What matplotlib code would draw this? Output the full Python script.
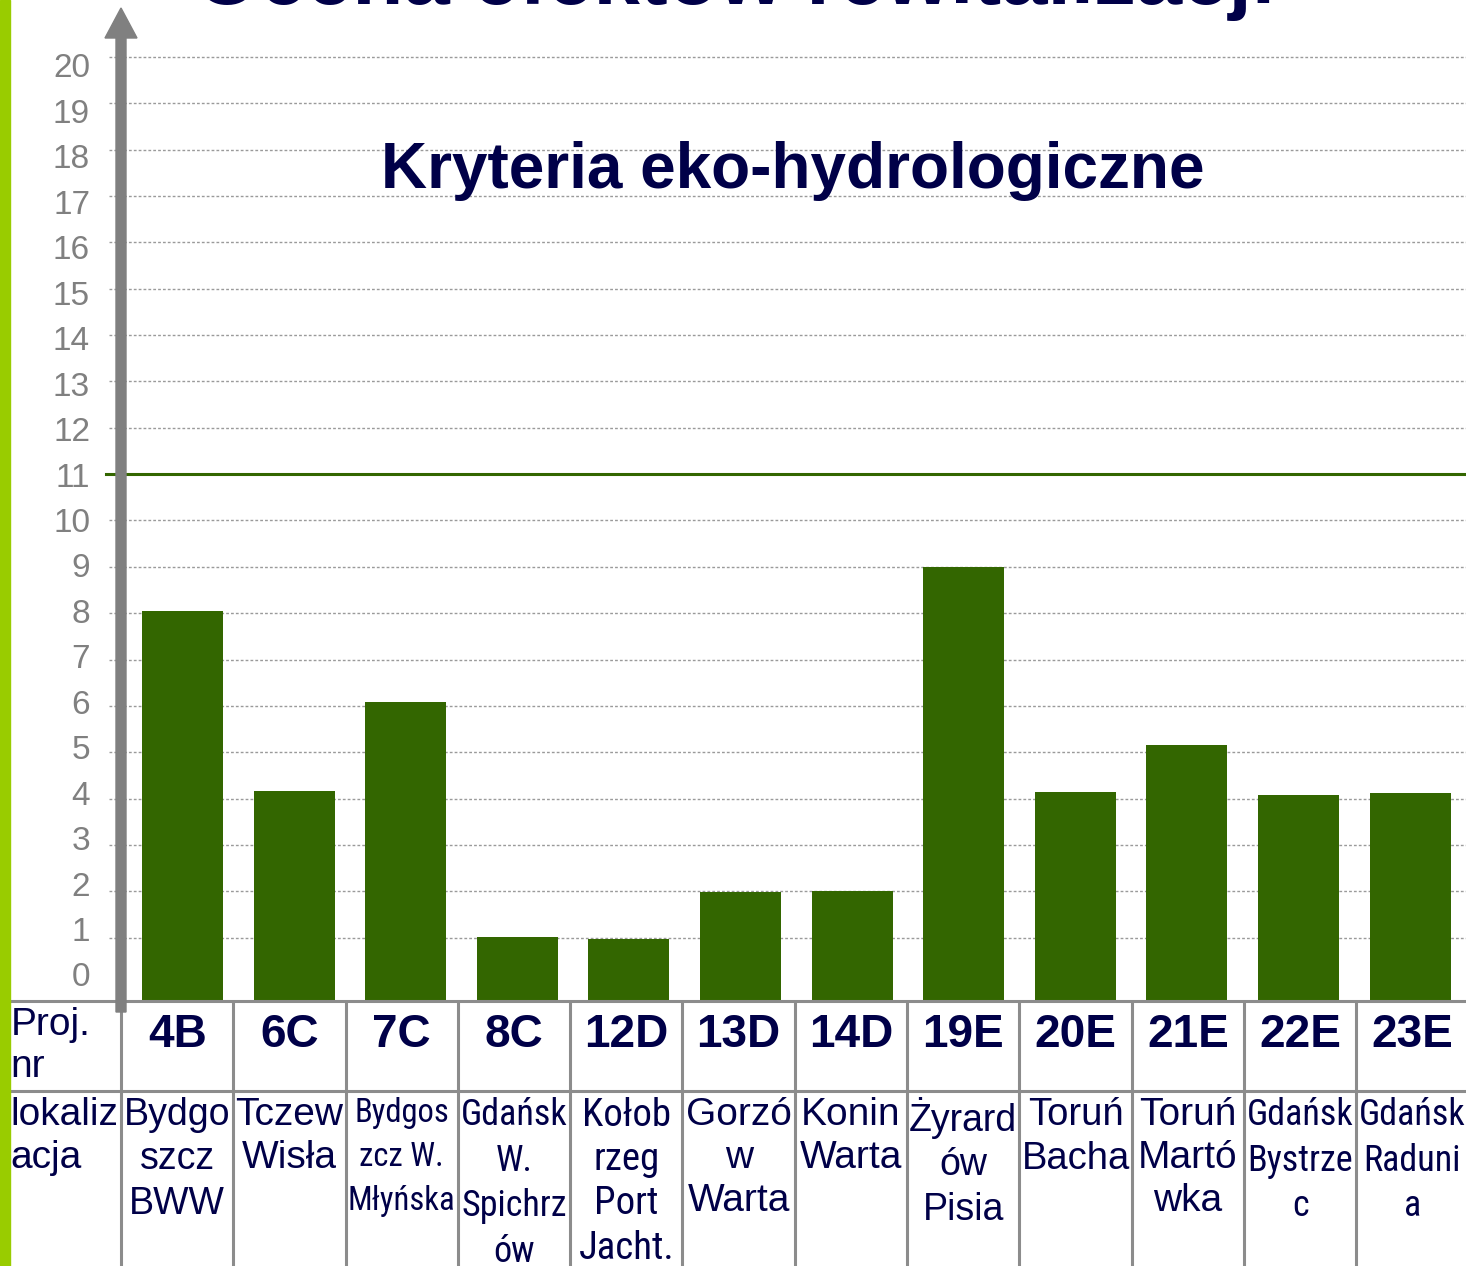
import matplotlib
matplotlib.use("Agg")
import matplotlib.pyplot as plt
import matplotlib.patches as mpatches
from matplotlib.transforms import IdentityTransform
from matplotlib import font_manager

projects = ["4B", "6C", "7C", "8C", "12D", "13D", "14D", "19E", "20E", "21E", "22E", "23E"]
locations = ["Bydgo\nszcz\nBWW", "Tczew\nWisła", "Bydgos\nzcz W.\nMłyńska", "Gdańsk\nW.\nSpichrz\nów",
             "Kołob\nrzeg\nPort\nJacht.", "Gorzó\nw\nWarta", "Konin\nWarta", "Żyrard\nów\nPisia",
             "Toruń\nBacha", "Toruń\nMartó\nwka", "Gdańsk\nBystrze\nc", "Gdańsk\nRaduni\na"]
narrow = [False, False, True, True, True, False, False, False, False, False, True, True]
scores = [8.04, 4.16, 6.08, 1.01, 0.97, 1.98, 2.0, 8.99, 4.14, 5.15, 4.07, 4.12]
threshold = 11
yticks = list(range(0, 21))

W, H = 1466, 1266
fig = plt.figure(figsize=(W / 100, H / 100), dpi=100)
fig.patch.set_facecolor("white")

NAVY = "#000048"
GREEN = "#336600"
GRAY = "#808080"
LINEG = "#8c8c8c"

fams = {f.name for f in font_manager.fontManager.ttflist}
narrow_family = "Liberation Sans"
for cand in ["Liberation Sans Narrow", "Arial Narrow", "Roboto Condensed", "Open Sans Condensed",
             "Noto Sans Condensed"]:
    if cand in fams:
        narrow_family = cand
        break


def fx(px):
    return px / W


def fy(py):  # py measured from top
    return 1 - py / H


# bar axes: zero line at 984 px, 20 at 57 px, bars reach down to the table at 1001 px
ax_left, ax_right, ax_top, ax_bottom = 121, 1466, 57, 1001
zero_px = 984
per_unit = (zero_px - ax_top) / 20.0
ymin = -(ax_bottom - zero_px) / per_unit
ax = fig.add_axes([fx(ax_left), fy(ax_bottom), fx(ax_right - ax_left), (ax_bottom - ax_top) / H])
bar_unit = 111.6
x_off = (182.5 - ax_left) / bar_unit
ax.set_xlim(-x_off, -x_off + (ax_right - ax_left) / bar_unit)
ax.set_ylim(ymin, 20)
for s in ax.spines.values():
    s.set_visible(False)
ax.set_xticks([])
ax.set_yticks([])

for t in yticks[1:]:
    if t == threshold:
        continue
    ax.axhline(t, xmin=-0.009, xmax=1, color="#9a9a9a", lw=1, ls=(0, (2, 1.5)), clip_on=False, zorder=1)
ax.axhline(threshold, xmin=-0.011, xmax=1, color=GREEN, lw=2.2, clip_on=False, zorder=2)

# y tick labels (slightly compressed spacing as in the original slide)
for t in yticks:
    dy = 6 - 18 * t / 20.0
    ax.annotate(str(t), xy=(0, t), xycoords=("axes fraction", "data"), xytext=(-31, dy),
                textcoords="offset pixels", ha="right", va="center", fontsize=24, color=GRAY,
                family="Liberation Sans", annotation_clip=False)

x = list(range(len(projects)))
ax.bar(x, [s - ymin for s in scores], bottom=ymin, width=0.726, color=GREEN, zorder=3)

# y-axis arrow
arrow = mpatches.FancyArrow(121, H - 1012, 0, 1004, width=10, head_width=32, head_length=30,
                            length_includes_head=True, color=GRAY, transform=IdentityTransform(),
                            zorder=10)
fig.patches.append(arrow)

# left green stripe
fig.patches.append(mpatches.Rectangle((0, 0), fx(10), 1, transform=fig.transFigure,
                                      color="#99cc00", zorder=5))

# titles
fig.text(0.5 * (190 + 1280) / W, fy(4), "Ocena efektów rewitalizacji", ha="center", va="baseline",
         fontsize=60, fontweight="bold", color=NAVY, family="Liberation Sans")
fig.text(fx(793), fy(188), "Kryteria eko-hydrologiczne", ha="center", va="baseline",
         fontsize=46, fontweight="bold", color=NAVY, family="Liberation Sans")

# table
col_unit = 112.3
tax = fig.add_axes([fx(10), 0, fx(W - 10), fy(ax_bottom)])
xl = -0.5 - (ax_left - 10) / col_unit
xr = -0.5 + (W - ax_left) / col_unit
tax.set_xlim(xl, xr)
tax.set_ylim(H, ax_bottom)
tax.axis("off")
for yy in (ax_bottom, 1091):
    tax.plot([xl, xr], [yy, yy], color=LINEG, lw=2.2, clip_on=False, solid_capstyle="butt")
for k in range(len(projects)):
    tax.plot([k - 0.5, k - 0.5], [ax_bottom, H], color=LINEG, lw=2.2, clip_on=False,
             solid_capstyle="butt")

LS = 1.25
tax.text(xl + 0.005, 1007, "Proj.\nnr", ha="left", va="top", fontsize=28, color=NAVY,
         family="Liberation Sans", linespacing=1.2)
tax.text(xl + 0.005, 1097, "lokaliz\nacja", ha="left", va="top", fontsize=28, color=NAVY,
         family="Liberation Sans", linespacing=LS)

renderer = fig.canvas.get_renderer()
for i, (p, loc, nw) in enumerate(zip(projects, locations, narrow)):
    tax.text(i, 1035, p, ha="center", va="center", fontsize=33, fontweight="bold", color=NAVY,
             family="Liberation Sans")
    fs = 28
    t = tax.text(i, 1097, loc, ha="center", va="top", fontsize=fs, color=NAVY,
                 family=narrow_family if nw else "Liberation Sans", linespacing=LS)
    maxw = col_unit - 4
    while t.get_window_extent(renderer).width > maxw and fs > 14:
        fs -= 0.5
        t.set_fontsize(fs)
        t.set_linespacing(LS * 28 / fs)

fig.savefig("out.png", dpi=100)
